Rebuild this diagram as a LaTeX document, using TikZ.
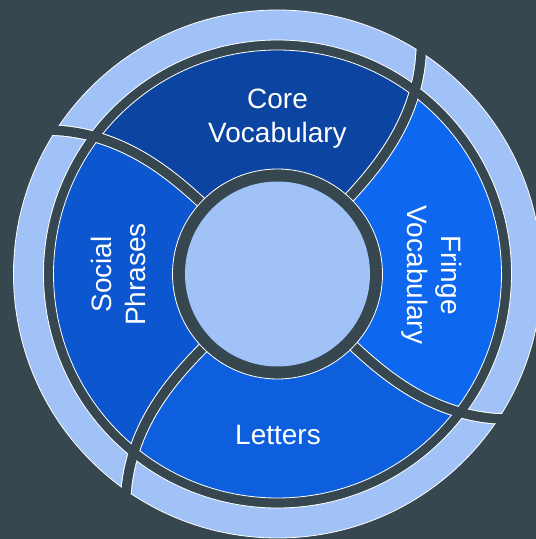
\documentclass[tikz,border=0pt]{standalone}
\usepackage{fontspec}
\setmainfont{Liberation Sans}
\definecolor{bg}{HTML}{37474F}
\definecolor{lightring}{HTML}{A1C2F7}
\definecolor{corec}{HTML}{0B45A1}
\definecolor{socialc}{HTML}{0C56D0}
\definecolor{lettersc}{HTML}{0E5FDD}
\definecolor{fringec}{HTML}{0D67EF}
\newcommand\sepang[2]{(#1)+(((#2)-100)*0.019494)^2}
\begin{document}
\begin{tikzpicture}[x=1pt,y=1pt,
  lbl/.style={text=white, font=\fontsize{28}{34}\selectfont, align=center, inner sep=0pt},
  outline/.style={white, line width=0.8},
  sepedge/.style={white, line width=11.5},
  sepline/.style={bg, line width=9.5}]
\useasboundingbox (0,0) rectangle (536,539);
\fill[bg] (0,0) rectangle (536,539);
\begin{scope}[shift={(277.5,265)}]
  % outer light ring
  \fill[lightring, even odd rule] (0,0) circle[radius=264] (0,0) circle[radius=234];
  \draw[outline] (0,0) circle[radius=264] (0,0) circle[radius=234];
  % blue segments
  \foreach \ta/\tb/\col in {-43.5/46.8/fringec, 46.8/136.8/corec, 136.8/224.8/socialc, 224.8/316.5/lettersc} {
    \begin{scope}
      \clip (0,0) -- plot[domain=100:280,samples=30,variable=\rad] ({\sepang{\ta}{\rad}}:\rad)
        arc[start angle={\sepang{\ta}{280}}, end angle={\sepang{\tb}{280}}, radius=280]
        -- plot[domain=100:280,samples=30,variable=\rev] ({\sepang{\tb}{380-\rev}}:{380-\rev}) -- cycle;
      \fill[\col] (0,0) circle[radius=224];
      \draw[outline] (0,0) circle[radius=224];
    \end{scope}
  }
  % separators
  \begin{scope}[even odd rule]
    \clip (0,0) circle[radius=264.4] (0,0) circle[radius=233.6] (0,0) circle[radius=224.4];
    \foreach \ta in {46.8,136.8,224.8,316.5}
      \draw[sepedge] plot[domain=95:285,samples=30,variable=\rad] ({\sepang{\ta}{\rad}}:\rad);
  \end{scope}
  \foreach \ta in {46.8,136.8,224.8,316.5}
    \draw[sepline] plot[domain=95:285,samples=30,variable=\rad] ({\sepang{\ta}{\rad}}:\rad);
  % centre
  \fill[bg] (0,0) circle[radius=105];
  \draw[outline] (0,0) circle[radius=105];
  \fill[lightring] (0,0) circle[radius=92.5];
  % labels
  \node[lbl] (core) at (0,155) {Core\\Vocabulary};
  \node[lbl, rotate=-90] (fringe) at (154.5,-1) {Fringe\\Vocabulary};
  \node[lbl, rotate=90] (social) at (-159.2,-0.5) {Social\\Phrases};
  \node[lbl] (letters) at (0.5,-160.7) {Letters};
\end{scope}
\end{tikzpicture}
\end{document}
